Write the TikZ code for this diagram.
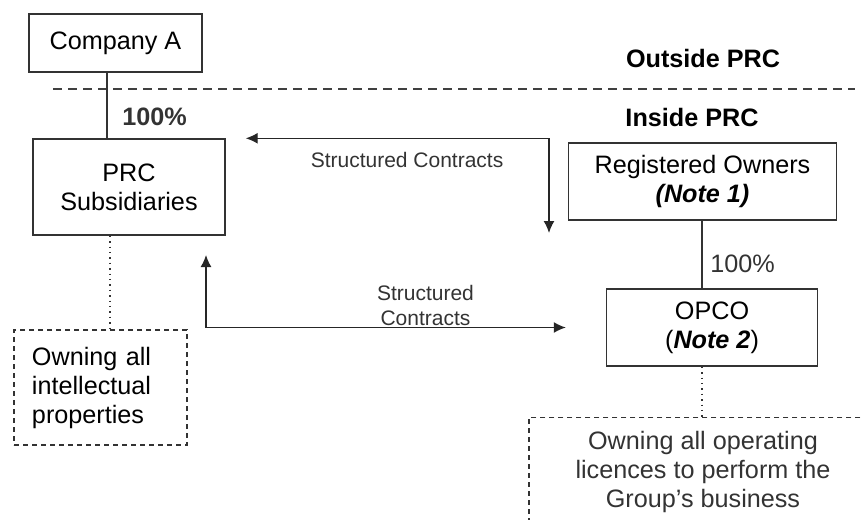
\documentclass[tikz,border=0pt]{standalone}
\usepackage{fontspec}
\setmainfont{Liberation Sans}
\usetikzlibrary{arrows.meta}
\begin{document}
\begin{tikzpicture}[x=0.5pt, y=-0.5pt]

      \tikzset{entity/.style={draw=black!80, line width=0.7pt, align=center, inner sep=0pt, font=\fontsize{12.6}{14.5}\selectfont},
               dashbox/.style={draw=black!80, line width=0.7pt, dash pattern=on 2.5pt off 2pt, font=\fontsize{12.6}{14.5}\selectfont},
               contract/.style={<->, > = {Latex[length=6pt, width=5.5pt]}, line width=0.7pt, black!85},
               tag/.style={font=\fontsize{12.6}{14.5}\selectfont}}
      \path[use as bounding box, clip] (0,0) rectangle (861,519);
%% Boxes
      	\node[entity, minimum width=86.5pt, minimum height=29pt] (ca) at (115.5,43) {Company A};
      	\node[entity, minimum width=96pt, minimum height=48pt] (prc) at (129,187) {PRC\\Subsidiaries};
    	\node[entity, minimum width=134pt, minimum height=38.5pt] (ro) at (702.5,181.5) {Registered Owners\\\textbf{\textit{(Note 1)}}};
  	    \node[entity, minimum width=105.5pt, minimum height=38.5pt] (opco) at (712,327.5) {OPCO\\(\textbf{\textit{Note 2}})};
     	\node[dashbox, minimum width=86.5pt, minimum height=57.5pt, text width=68.5pt, inner xsep=9pt, align=left] (ip) at (100.5,387.5) {Owning all\\intellectual\\properties};
     	\node[dashbox, anchor=north, minimum width=174pt, inner ysep=7pt, text depth=40pt, align=center, text=black!80] (lic) at (703,417) {Owning all operating\\licences to perform the\\Group’s business};
%% Texts
     	\node[tag, font=\fontsize{12.6}{14.5}\bfseries] (out) at (703,58) {Outside PRC};
     	\node[tag, font=\fontsize{12.6}{14.5}\bfseries] (in) at (692,117) {Inside PRC};
     	\draw[black!75, line width=0.7pt, dash pattern=on 4.5pt off 3pt] (53,89) -- (855,89);
%Edges
     	\coordinate (ct1) at (549,233);
     	\coordinate (ct2) at (206,255);
		\draw[black!80, line width=0.7pt] ([xshift=-4.25pt]ca.south) -- node[pos=0.67, right=4pt, tag, font=\fontsize{12.6}{14.5}\bfseries] {100\%} ([xshift=-4.25pt]ca.south |- prc.north);
		\draw[black!80, line width=0.7pt] ([xshift=-0.25pt]ro.south) -- node[pos=0.64, right=0.5pt, tag] {100\%} ([xshift=-0.25pt]ro.south |- opco.north);
		\draw[black!80, line width=0.7pt, dotted] ([xshift=-9.5pt]prc.south) -- ([xshift=-9.5pt]prc.south |- ip.north);
		\draw[black!80, line width=0.7pt, dotted] ([xshift=-5pt]opco.south) -- ([xshift=-5pt]opco.south |- lic.north);
		\draw[contract] ([xshift=10pt]prc.north east) -| node[pos=0.266, below=3.5pt, font=\fontsize{10.5}{12.5}\selectfont, text=black!80] {Structured Contracts} (ct1);
		\draw[contract] (ct2) |- node[pos=0.805, above=-3pt, align=center, font=\fontsize{10.5}{12.5}\selectfont, text=black!80] {Structured\\Contracts} ([xshift=-20pt]opco.west);

	\end{tikzpicture}
\end{document}
